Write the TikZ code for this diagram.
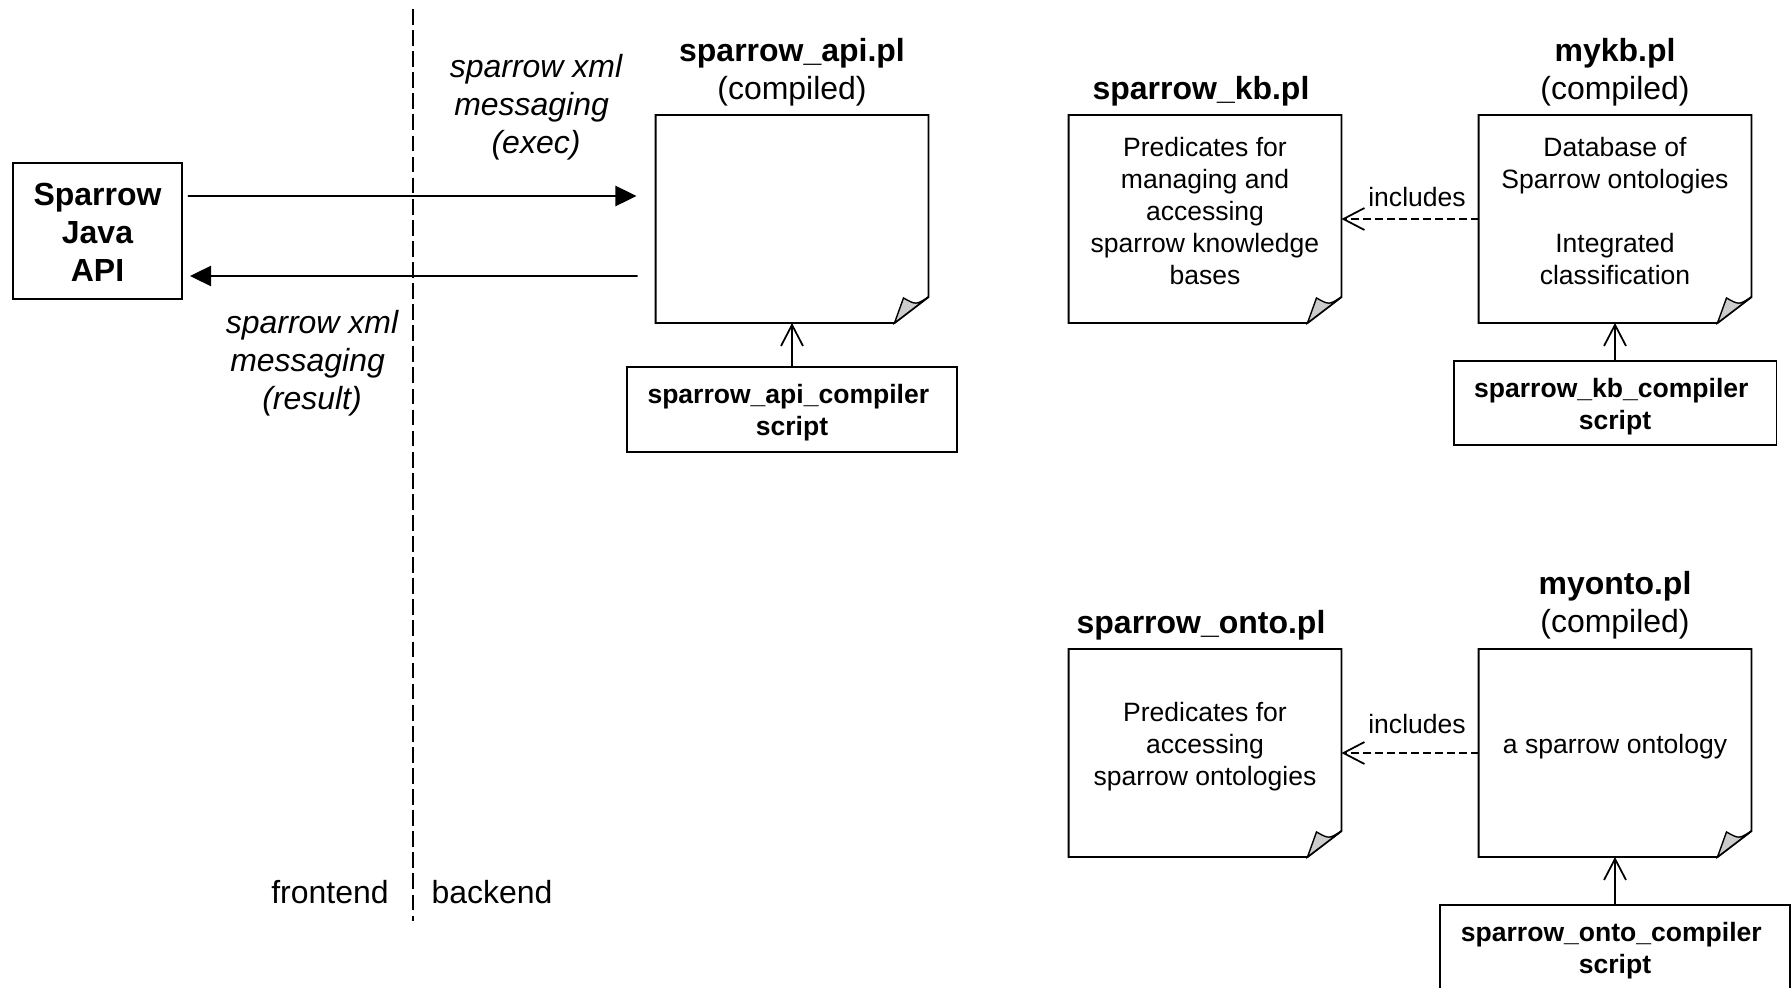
\documentclass[tikz,border=0pt]{standalone}
\usepackage{fontspec}
\setmainfont{Liberation Sans}
\usetikzlibrary{arrows.meta}
\definecolor{foldgray}{RGB}{204,204,204}
\newcommand{\bigtxt}{\fontsize{18.2}{21.6}\selectfont}
\newcommand{\smalltxt}{\fontsize{15.1}{18.2}\selectfont}
\tikzset{
	notebox/.style={minimum width=5.46cm, minimum height=4.16cm, inner sep=0pt, outer sep=0pt},
	scriptbox/.style={draw, line width=1.1pt, inner sep=0pt, outer sep=0pt},
	scripttext/.style={align=center, inner sep=0pt, font=\smalltxt\bfseries},
	title/.style={align=center, inner sep=0pt, font=\bigtxt},
	notetext/.style={align=center, inner sep=0pt, font=\smalltxt},
	message/.style={align=center, inner sep=0pt, font=\bigtxt\itshape},
	solidtip/.style={-{Triangle[length=12pt, width=11.5pt]}, line width=1pt},
	opentip/.style={-{Straight Barb[length=12pt, width=12.5pt, line width=1pt]}, line width=1pt},
	includetip/.style={opentip, dash pattern=on 4.5pt off 2.3pt},
}
\begin{document}
\begin{tikzpicture}[x=0.02cm, y=-0.02cm]
\path[clip, use as bounding box] (0,0) rectangle (1791,987);
% frontend and backend
\coordinate (divtop) at (413, 9);
\coordinate (divbottom) at (413, 921);
\draw[line width=1pt, dash pattern=on 9pt off 3pt] (divtop) -- (divbottom);
\node[title] (frontend) at (330, 892) {frontend};
\node[title] (backend) at (492, 892) {backend};
% java side
\node[scriptbox, minimum width=3.38cm, minimum height=2.72cm] (javaapi) at (97.5, 231) {};
\node[title, font=\bigtxt\bfseries] (javatext) at (97.5, 232.5) {Sparrow\\Java\\API};
% the notes
\node[notebox] (apinote) at (792, 219) {};
\node[notebox] (kbnote) at (1205, 219) {};
\node[notebox] (mykbnote) at (1615, 219) {};
\node[notebox] (ontonote) at (1205, 753) {};
\node[notebox] (myontonote) at (1615, 753) {};
\foreach \n in {apinote, kbnote, mykbnote, ontonote, myontonote}
{
	\draw[line width=1.1pt] (\n.north west) -- (\n.north east) -- ([yshift=.52cm]\n.south east) -- ([xshift=-.68cm]\n.south east) -- (\n.south west) -- cycle;
	\draw[line width=.8pt, fill=foldgray] ([xshift=-.68cm]\n.south east) -- ([xshift=-.5cm, yshift=.5cm]\n.south east) .. controls ([xshift=-.25cm, yshift=.36cm]\n.south east) .. ([yshift=.52cm]\n.south east) -- cycle;
}
% titles
\node[title] (apititle) at (792, 72.5) {\textbf{sparrow\_api.pl}\\(compiled)};
\node[title] (kbtitle) at (1201, 91) {\textbf{sparrow\_kb.pl}};
\node[title] (mykbtitle) at (1615, 72.5) {\textbf{mykb.pl}\\(compiled)};
\node[title] (ontotitle) at (1201, 625) {\textbf{sparrow\_onto.pl}};
\node[title] (myontotitle) at (1615, 605.5) {\textbf{myonto.pl}\\(compiled)};
% note texts
\node[notetext] (kbtext) at (1205, 211) {Predicates for\\managing and\\accessing\\sparrow knowledge\\bases};
\node[notetext] (mykbtext) at (1615, 211) {Database of\\Sparrow ontologies\\[18.2pt]Integrated\\classification};
\node[notetext] (ontotext) at (1205, 747) {Predicates for\\accessing\\sparrow ontologies};
\node[notetext] (myontotext) at (1615, 747) {a sparrow ontology};
% scripts
\node[scriptbox, minimum width=6.6cm, minimum height=1.7cm] (apiscript) at (792, 409.5) {};
\node[scriptbox, minimum width=6.46cm, minimum height=1.68cm] (kbscript) at (1615, 403) {};
\node[scriptbox, minimum width=7cm, minimum height=1.7cm] (ontoscript) at (1615, 947.5) {};
\node[scripttext] (apilabel) at (792, 412.5) {sparrow\_api\_compiler\rule{4.2pt}{0pt}\\script};
\node[scripttext] (kblabel) at (1615, 406.5) {sparrow\_kb\_compiler\rule{4.2pt}{0pt}\\script};
\node[scripttext] (ontolabel) at (1615, 950.5) {sparrow\_onto\_compiler\rule{4.2pt}{0pt}\\script};
\draw[opentip] (apiscript.north) -- (apinote.south);
\draw[opentip] (kbscript.north) -- (mykbnote.south);
\draw[opentip] (ontoscript.north) -- (myontonote.south);
% includes
\draw[includetip] (mykbnote.west) -- (kbnote.east);
\draw[includetip] (myontonote.west) -- (ontonote.east);
\node[notetext] (kbincludes) at (1417, 197) {includes};
\node[notetext] (ontoincludes) at (1417, 724) {includes};
% messages
\draw[solidtip, shorten <=.12cm, shorten >=.38cm] ([yshift=.7cm]javaapi.east) -- ([yshift=.46cm]apinote.west);
\draw[solidtip, shorten <=.36cm, shorten >=.16cm] ([yshift=-1.14cm]apinote.west) -- ([yshift=-.9cm]javaapi.east);
\node[message] (execmsg) at (536, 107.5) {sparrow xml\\messaging\rule{5pt}{0pt}\\(exec)};
\node[message] (resultmsg) at (312, 363.5) {sparrow xml\\messaging\rule{5pt}{0pt}\\(result)};
\end{tikzpicture}
\end{document}
